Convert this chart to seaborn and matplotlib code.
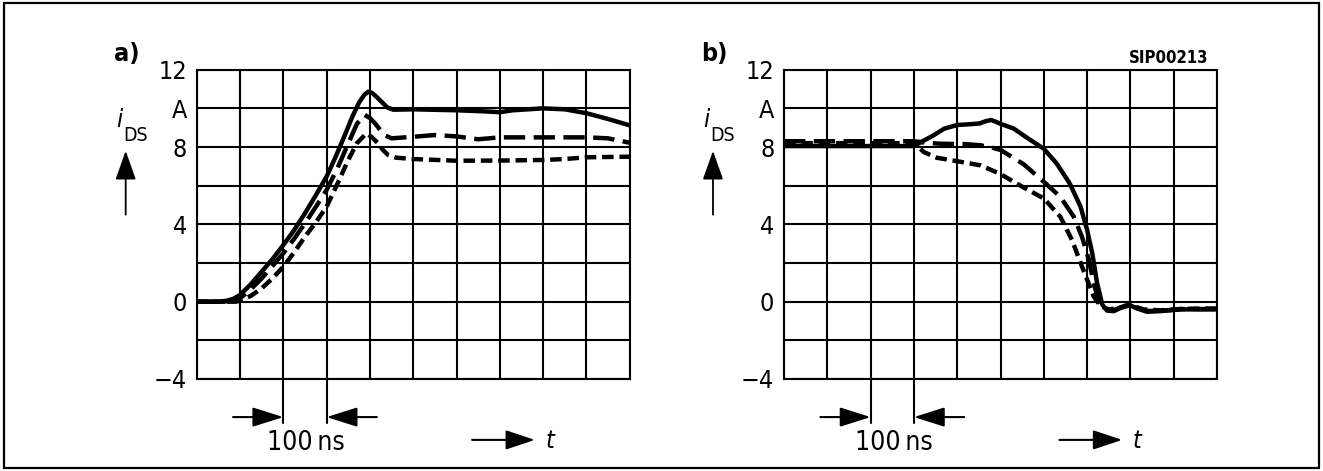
import numpy as np
import pandas as pd
import matplotlib
matplotlib.use("Agg")
import matplotlib.pyplot as plt
import matplotlib.patches as mpatches
import seaborn as sns

# time axis in ns (one grid column = 100 ns), current in A
# panel a) : turn-on
ta_solid = [0, 50, 70, 85, 100, 125, 150, 175, 200, 225, 250, 275, 300, 320, 340, 360,
            375, 387, 396, 405, 415, 427, 440, 454, 500, 600, 660, 700, 730, 800, 850, 900, 950, 1000]
ia_solid = [0, 0, 0.05, 0.15, 0.35, 0.9, 1.55, 2.2, 2.93, 3.7, 4.57, 5.5, 6.47, 7.45, 8.5, 9.6,
            10.3, 10.7, 10.86, 10.8, 10.6, 10.34, 10.05, 9.93, 9.95, 9.9, 9.85, 9.8, 9.9, 10.0, 9.95, 9.75, 9.45, 9.12]

ta_long = [0, 80, 100, 125, 150, 175, 200, 225, 250, 275, 300, 325, 350, 370, 388, 400,
           412, 425, 435, 450, 500, 550, 600, 650, 700, 800, 900, 950, 1000]
ia_long = [0, 0, 0.17, 0.65, 1.2, 1.85, 2.5, 3.25, 4.05, 4.9, 5.78, 6.9, 8.19, 9.2, 9.66, 9.5,
           9.22, 8.85, 8.6, 8.45, 8.53, 8.62, 8.55, 8.4, 8.5, 8.5, 8.5, 8.45, 8.22]

ta_short = [0, 90, 100, 125, 150, 175, 200, 225, 250, 275, 300, 325, 350, 370, 392, 405,
            419, 430, 442, 460, 500, 600, 700, 800, 850, 900, 1000]
ia_short = [0, 0, 0.05, 0.3, 0.69, 1.2, 1.81, 2.55, 3.36, 4.1, 4.91, 6.1, 7.33, 8.2, 8.71, 8.5,
            8.19, 7.85, 7.59, 7.45, 7.38, 7.29, 7.3, 7.33, 7.38, 7.47, 7.5]

# panel b) : turn-off
tb_solid = [0, 300, 320, 345, 370, 400, 430, 452, 465, 478, 490, 500, 530, 560, 600, 630,
            660, 685, 700, 712, 723, 735, 746, 762, 777, 796, 815, 838, 869, 915, 1000]
ib_solid = [8.05, 8.05, 8.3, 8.6, 8.95, 9.14, 9.18, 9.22, 9.33, 9.4, 9.3, 9.2, 8.96, 8.5, 7.91, 7.14,
            6.11, 4.91, 3.71, 2.5, 0.97, -0.15, -0.46, -0.49, -0.32, -0.15, -0.35, -0.52, -0.49, -0.4, -0.4]

tb_long = [0, 300, 330, 360, 420, 454, 483, 500, 554, 600, 638, 669, 688, 704, 715, 727,
           742, 760, 777, 796, 815, 840, 870, 920, 1000]
ib_long = [8.3, 8.3, 8.22, 8.17, 8.15, 8.09, 7.95, 7.85, 7.1, 6.2, 5.43, 4.4, 3.37, 2.17, 0.97, 0.02,
           -0.37, -0.45, -0.3, -0.15, -0.33, -0.48, -0.47, -0.38, -0.38]

tb_short = [0, 300, 323, 352, 406, 430, 454, 490, 500, 550, 600, 638, 665, 685, 700, 715,
            731, 750, 780, 800, 830, 870, 920, 1000]
ib_short = [8.2, 8.2, 7.74, 7.45, 7.24, 7.15, 7.05, 6.7, 6.6, 5.95, 5.34, 4.4, 3.2, 2.0, 1.14, 0.28,
            -0.23, -0.4, -0.3, -0.18, -0.4, -0.45, -0.37, -0.35]

panel_labels = ["a)", "b)"]
ytick_vals = [-4, -2, 0, 2, 4, 6, 8, 10, 12]
ytick_text = ["\u22124", "", "0", "", "4", "", "8", "A", "12"]

sns.set_style("white")
plt.rcParams["font.family"] = ["DejaVu Sans"]
plt.rcParams["font.stretch"] = "condensed"
plt.rcParams["text.color"] = "black"
plt.rcParams["ytick.color"] = "black"

W, H = 1323, 471
fig = plt.figure(figsize=(W / 100, H / 100), dpi=100)

# outer frame of the drawing
fig.patches.append(mpatches.Rectangle((4 / W, 3 / H), 1315 / W, 465 / H, transform=fig.transFigure,
                                      fill=False, ec="black", lw=1.6))

series = [
    [(ta_solid, ia_solid), (ta_long, ia_long), (ta_short, ia_short)],
    [(tb_solid, ib_solid), (tb_long, ib_long), (tb_short, ib_short)],
]
styles = ["-", (0, (4.8, 1.9)), (0, (2.6, 1.3))]

lefts = [196.7, 784.0]
for k, left in enumerate(lefts):
    ax = fig.add_axes([left / W, 1 - 379 / H, 433 / W, 309.3 / H])
    for (t, i), ls in zip(series[k], styles):
        df = pd.DataFrame({"t": t, "i": i})
        sns.lineplot(data=df, x="t", y="i", ax=ax, color="black", lw=3.2,
                     linestyle=ls, sort=False, estimator=None)

    ax.set_xlim(0, 1000)
    ax.set_ylim(-4, 12)
    ax.set_xticks(np.arange(0, 1001, 100))
    ax.set_xticklabels([])
    ax.set_yticks(ytick_vals)
    ax.set_yticklabels(ytick_text, fontsize=18, color="black")
    ax.tick_params(length=0, pad=7)
    ax.grid(True, color="black", lw=1.5)
    ax.set_axisbelow(True)
    for s in ax.spines.values():
        s.set_color("black")
        s.set_linewidth(1.5)
    ax.set_xlabel("")
    ax.set_ylabel("")

    # panel letter
    ax.text(-162, 12.8, panel_labels[k], fontsize=18, fontweight="bold",
            ha="center", va="center", clip_on=False)

    # y quantity with upward arrow
    ax.text(-172, 9.4, "i", fontsize=18, style="italic", ha="right", va="center", clip_on=False)
    ax.text(-170, 8.6, "DS", fontsize=14, ha="left", va="center", clip_on=False)
    ax.annotate("", xy=(-164, 7.8), xytext=(-164, 4.5), annotation_clip=False,
                arrowprops=dict(arrowstyle="-|>,head_length=0.9,head_width=0.32",
                                mutation_scale=20, color="black", lw=1.3, shrinkA=0, shrinkB=0))

    # 100 ns time scale marker
    for xv in (200, 300):
        ax.plot([xv, xv], [-4, -6.3], color="black", lw=1.5, clip_on=False)
    ax.annotate("", xy=(200, -5.97), xytext=(84, -5.97), annotation_clip=False,
                arrowprops=dict(arrowstyle="-|>,head_length=0.95,head_width=0.3",
                                mutation_scale=20, color="black", lw=1.5, shrinkA=0, shrinkB=0))
    ax.annotate("", xy=(300, -5.97), xytext=(416, -5.97), annotation_clip=False,
                arrowprops=dict(arrowstyle="-|>,head_length=0.95,head_width=0.3",
                                mutation_scale=20, color="black", lw=1.5, shrinkA=0, shrinkB=0))
    ax.text(253, -7.3, "100\u2009ns", fontsize=19, ha="center", va="center", clip_on=False)

    # time axis arrow
    ax.annotate("", xy=(781, -7.15), xytext=(636, -7.15), annotation_clip=False,
                arrowprops=dict(arrowstyle="-|>,head_length=0.9,head_width=0.3",
                                mutation_scale=20, color="black", lw=1.5, shrinkA=0, shrinkB=0))
    ax.text(805, -7.2, "t", fontsize=18, style="italic", ha="left", va="center", clip_on=False)

    if k == 1:
        ax.text(980, 12.6, "SIP00213", fontsize=12, fontweight="bold",
                ha="right", va="center", clip_on=False)

fig.savefig("out.png", dpi=100)
